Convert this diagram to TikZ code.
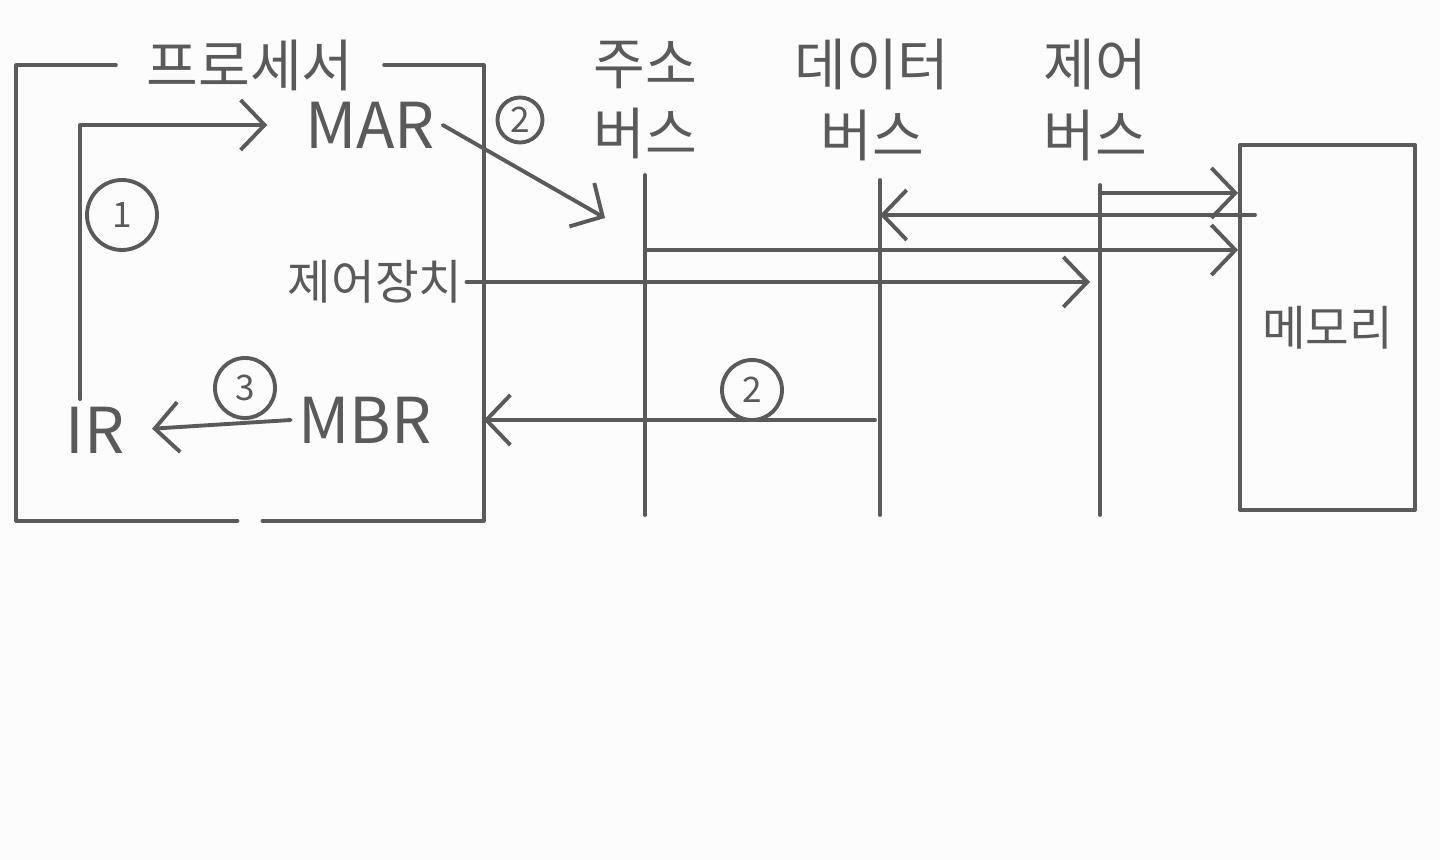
\documentclass[tikz,border=0pt]{standalone}
\usepackage{fontspec}
\setmainfont{Noto Sans CJK KR}
\usepackage{tikz}
\usetikzlibrary{arrows.meta,calc,positioning}

\definecolor{pencil}{HTML}{5A5A5A}
\definecolor{paper}{HTML}{FCFCFC}

\begin{document}
\begin{tikzpicture}[
  line cap=round,
  line join=round,
  ink/.style={draw=pencil, line width=1.1pt},
  flow/.style={ink, -{Straight Barb[length=2.4mm,width=5mm]}},
  title/.style={text=pencil, font=\fontsize{16}{20}\selectfont, inner sep=1pt},
  small/.style={text=pencil, font=\fontsize{13.5}{16}\selectfont, inner sep=1pt},
  reg/.style={text=pencil, font=\fontsize{18}{20}\selectfont, inner sep=2pt},
  numcirc/.style={ink, circle, inner sep=0pt, text=pencil, font=\fontsize{10}{12}\selectfont},
  procframe/.style={rectangle, minimum width=4.66cm, minimum height=4.54cm, inner sep=0pt},
  membox/.style={ink, rectangle, minimum width=1.75cm, minimum height=3.65cm, inner sep=0pt}
]
\path[fill=paper] (0,0) rectangle (14.4,8.6);
\useasboundingbox (0,0) rectangle (14.4,8.6);

% processor with its registers
\node[procframe] (proc) at (2.5,5.67) {};
\node[title, inner xsep=3mm] (ptitle) at (proc.north) {프로세서};
\draw[ink] (ptitle.west) -- (proc.north west) -- (proc.south west)
  -- ([xshift=-1.25mm]proc.south);
\draw[ink] ([xshift=1.25mm]proc.south) -- (proc.south east)
  -- (proc.north east) -- (ptitle.east);

\node[reg] (mar) at (3.7,7.35) {MAR};
\node[reg] (ir) at (0.95,4.3) {IR};
\node[reg] (mbr) at (3.65,4.4) {MBR};
\node[small] (cu) at (3.75,5.78) {제어장치};

% step 1: IR -> MAR
\node[numcirc, minimum size=7mm] (s1) at (1.22,6.45) {1};
\draw[flow, shorten >=3mm] ([xshift=-1.5mm]ir.north) |- (mar.west);

% step 3: MBR -> IR
\node[numcirc, minimum size=6mm] (s3) at (2.45,4.72) {3};
\draw[flow, shorten >=2mm] (mbr.west) -- (ir.east);

% buses
\coordinate (abus top) at (6.45,6.85);
\coordinate (abus bot) at (6.45,3.45);
\coordinate (dbus top) at (8.8,6.8);
\coordinate (dbus bot) at (8.8,3.45);
\coordinate (cbus top) at (11.0,6.75);
\coordinate (cbus bot) at (11.0,3.45);
\draw[ink] (abus top) -- (abus bot);
\draw[ink] (dbus top) -- (dbus bot);
\draw[ink] (cbus top) -- (cbus bot);
\node[title, align=center] (alabel) at (6.45,7.6) {주소\\버스};
\node[title, align=center] (dlabel) at (8.72,7.6) {데이터\\버스};
\node[title, align=center] (clabel) at (10.95,7.6) {제어\\버스};

% memory
\node[membox, small] (mem) at (13.275,5.325) {메모리};

% step 2: MAR -> address bus
\node[numcirc, minimum size=4.5mm] (s2a) at (5.2,7.4) {2};
\coordinate (mar2bus) at (6.05,6.42);
\draw[flow] (mar.east) -- (mar2bus);

% bus lines to and from memory
\coordinate (cb1) at (11.0,6.67);
\draw[flow] (cb1) -- (cb1 -| mem.west);
\coordinate (m2d) at (12.55,6.45);
\draw[flow] (m2d) -- (m2d -| dbus top);
\coordinate (ab1) at (6.45,6.1);
\draw[flow] (ab1) -- (ab1 -| mem.west);
\draw[flow, shorten >=1mm] (cu.east) -- (cu.east -| cbus top);

% step 2: data bus -> MBR
\coordinate (db1) at (8.75,4.4);
\draw[flow] (db1) -- (db1 -| proc.east);
\node[numcirc, minimum size=6mm] (s2b) at (7.52,4.7) {2};
\end{tikzpicture}
\end{document}
